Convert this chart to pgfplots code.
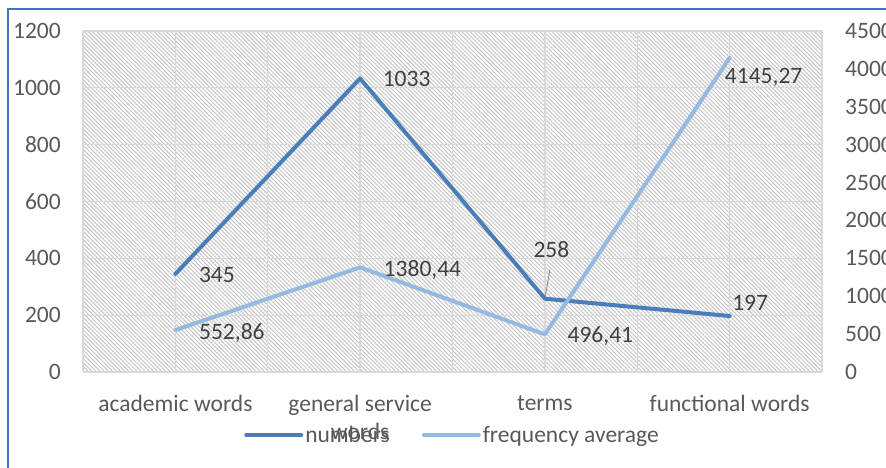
\documentclass[border=0pt]{standalone}
\usepackage{fontspec}
\setmainfont{Carlito}
\usepackage{pgfplots}
\pgfplotsset{compat=1.18}
\usepackage{pgfplotstable}
\usetikzlibrary{patterns.meta}

\definecolor{numblue}{RGB}{74,126,187}
\definecolor{freqblue}{RGB}{149,185,224}
\definecolor{txtgray}{RGB}{89,89,89}
\definecolor{lblgray}{RGB}{64,64,64}
\definecolor{gridgray}{RGB}{217,217,217}
\definecolor{hatchgray}{RGB}{196,196,196}
\definecolor{frameblue}{RGB}{68,114,196}

\newcommand\chartfont{\fontsize{23.6}{28}\selectfont}

% value, and offset of its label from the point (bp)
\pgfplotstableread{
x y dx dy
0 345 41.5 -9
1 1033 46.5 -8.5
2 258 6.5 41
3 197 20.5 6
}\numbers

\pgfplotstableread{
x y dx dy
0 552.86 56.5 -9
1 1380.44 62.3 -9
2 496.41 55.5 -8
3 4145.27 34 -26
}\freqavg

\pgfplotsset{
  /pgf/number format/assume math mode=true,
  chartbase/.style={
    scale only axis, width=739bp, height=341bp,
    at={(83bp,96bp)}, anchor=south west,
    xmin=-0.5, xmax=3.5,
    axis line style={draw=none},
    major tick length=0pt, minor tick length=0pt,
    tick label style={font=\chartfont, text=txtgray},
    /pgf/number format/fixed,
    /pgf/number format/precision=2,
    /pgf/number format/use comma,
    /pgf/number format/1000 sep={},
    clip=false,
  },
  valuelabels/.style={
    nodes near coords,
    point meta=explicit,
    visualization depends on={\thisrow{dx} \as \labdx},
    visualization depends on={\thisrow{dy} \as \labdy},
    every node near coord/.append style={font=\chartfont, text=lblgray,
      anchor=base, inner sep=0pt, xshift=\labdx bp, yshift=\labdy bp},
  },
}

\begin{document}
\begin{tikzpicture}
\useasboundingbox (0,0) rectangle (886bp,468bp);

% left axis: numbers
\begin{axis}[chartbase,
  ymin=0, ymax=1200, ytick={0,200,...,1200},
  xtick={0,1,2,3},
  xticklabels={academic words, {general service\\words}, terms, functional words},
  minor xtick={-0.5,0.5,1.5,2.5,3.5},
  xmajorgrids, xminorgrids, ymajorgrids,
  grid style={gridgray, line width=1.3bp},
  minor grid style={gridgray, line width=1.3bp},
  axis background/.style={pattern={Lines[angle=-45,distance=2.9bp,line width=1bp]},
    pattern color=hatchgray},
  yticklabel style={anchor=east, inner sep=0pt, xshift=-22bp},
  xticklabel style={anchor=north, inner sep=0pt, yshift=-23bp, align=center},
]
\draw[gray, line width=0.8bp] (axis cs:2,258) -- ++(5bp,29bp);
\addplot[numblue, line width=4bp, line join=round, line cap=round, valuelabels]
  table[x=x, y=y, meta=y] {\numbers};
\end{axis}

% right axis: frequency average
\begin{axis}[chartbase,
  ymin=0, ymax=4500, ytick={0,500,...,4500},
  xtick=\empty,
  yticklabel pos=right,
  yticklabel style={anchor=west, inner sep=0pt, xshift=23bp},
  legend columns=2,
  legend style={draw=none, fill=none, at={(0.5,0)}, anchor=center, yshift=-63bp,
    font=\chartfont, text=txtgray, nodes={inner sep=2bp},
    /tikz/every even column/.append style={column sep=30bp}},
  legend image code/.code={\draw[#1] (0bp,0bp) -- (55bp,0bp);},
]
\addlegendimage{numblue, line width=4bp, line cap=round}
\addlegendentry{numbers}
\addplot[freqblue, line width=4bp, line join=round, line cap=round, valuelabels]
  table[x=x, y=y, meta=y] {\freqavg};
\addlegendentry{frequency average}
\end{axis}

\draw[frameblue, line width=1.2bp] (8bp,-20bp) -- (8bp,459bp) -- (900bp,459bp);
\end{tikzpicture}
\end{document}
